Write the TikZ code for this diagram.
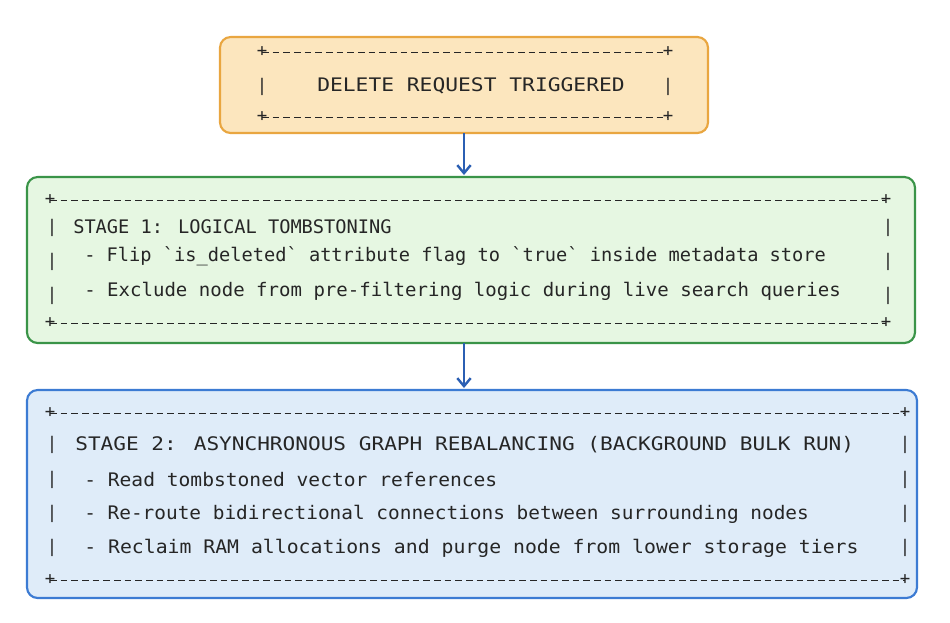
\documentclass[tikz,border=0pt]{standalone}
\usepackage{fontspec}
\setmainfont{DejaVu Sans Mono}
\usetikzlibrary{arrows.meta}
\definecolor{orangefill}{HTML}{FCE6BE}
\definecolor{orangeline}{HTML}{E9A640}
\definecolor{greenfill}{HTML}{E6F7E2}
\definecolor{greenline}{HTML}{3A9448}
\definecolor{bluefill}{HTML}{DFECF9}
\definecolor{blueline}{HTML}{3C7BD3}
\definecolor{arrowblue}{HTML}{2B5FB3}
\definecolor{ink}{HTML}{262626}
\newcommand{\bq}{\textasciigrave}
\tikzset{
  stage/.style={draw, line width=1.6pt, rounded corners=8pt},
  rule/.style={draw=ink, dashed, dash pattern=on 5pt off 3pt, line width=0.7pt},
  glyph/.style={inner sep=0pt, text=ink, font=\fontsize{13}{15}\selectfont},
  txt/.style={anchor=west, inner sep=0pt, text=ink, font=\fontsize{14}{17}\selectfont},
  wide/.style={txt, xscale=#1},
  link/.style={draw=arrowblue, line width=1.8pt, -{Straight Barb[length=6pt,width=10pt]}}
}
\begin{document}
\begin{tikzpicture}[x=0.75pt,y=-0.75pt]
  \useasboundingbox[fill=white] (0,0) rectangle (950,622);

  % Boxes
  \path[stage, fill=orangefill, draw=orangeline] (220,37) rectangle (708,133);
  \path[stage, fill=greenfill, draw=greenline] (27,177) rectangle (915,343);
  \path[stage, fill=bluefill, draw=blueline] (27,390) rectangle (917,598);
  \coordinate (top-s) at (464,133);
  \coordinate (green-n) at (464,175);
  \coordinate (green-s) at (464,343);
  \coordinate (blue-n) at (464,388);

  % Request box
  \path[rule] (262,52) -- (668,52);
  \path[rule] (262,117) -- (668,117);
  \foreach \x in {262,668} {
    \node[glyph] at (\x,52) {+};
    \node[glyph] at (\x,117) {+};
    \node[glyph] at (\x,87) {|};
  }
  \node[wide=1.14, anchor=center] (request) at (471,86) {DELETE REQUEST TRIGGERED};

  % Stage 1
  \path[rule] (50,200) -- (886,200);
  \path[rule] (50,323) -- (886,323);
  \foreach \x in {50,886} {
    \node[glyph] at (\x,200) {+};
    \node[glyph] at (\x,323) {+};
  }
  \foreach \y in {228,262,296} {
    \node[glyph] at (52,\y) {|};
    \node[glyph] at (888,\y) {|};
  }
  \node[txt] (stage-one) at (73,227) {STAGE 1: LOGICAL TOMBSTONING};
  \node[txt] (flip) at (84,256) {- Flip \bq is\_deleted\bq{} attribute flag to \bq true\bq{} inside metadata store};
  \node[wide=1.02] (exclude) at (84,291) {- Exclude node from pre-filtering logic during live search queries};

  % Stage 2
  \path[rule] (50,413) -- (905,413);
  \path[rule] (50,580) -- (905,580);
  \foreach \x in {50,905} {
    \node[glyph] at (\x,413) {+};
    \node[glyph] at (\x,580) {+};
  }
  \foreach \y in {445,480,514,548} {
    \node[glyph] at (52,\y) {|};
    \node[glyph] at (905,\y) {|};
  }
  \node[wide=1.13] (stage-two) at (75,445) {STAGE 2: ASYNCHRONOUS GRAPH REBALANCING (BACKGROUND BULK RUN)};
  \node[wide=1.05] (read) at (84,480) {- Read tombstoned vector references};
  \node[wide=1.04] (reroute) at (84,514) {- Re-route bidirectional connections between surrounding nodes};
  \node[wide=1.06] (reclaim) at (84,548) {- Reclaim RAM allocations and purge node from lower storage tiers};

  % Arrows
  \path[link] (top-s) -- (green-n);
  \path[link] (green-s) -- (blue-n);
\end{tikzpicture}
\end{document}
